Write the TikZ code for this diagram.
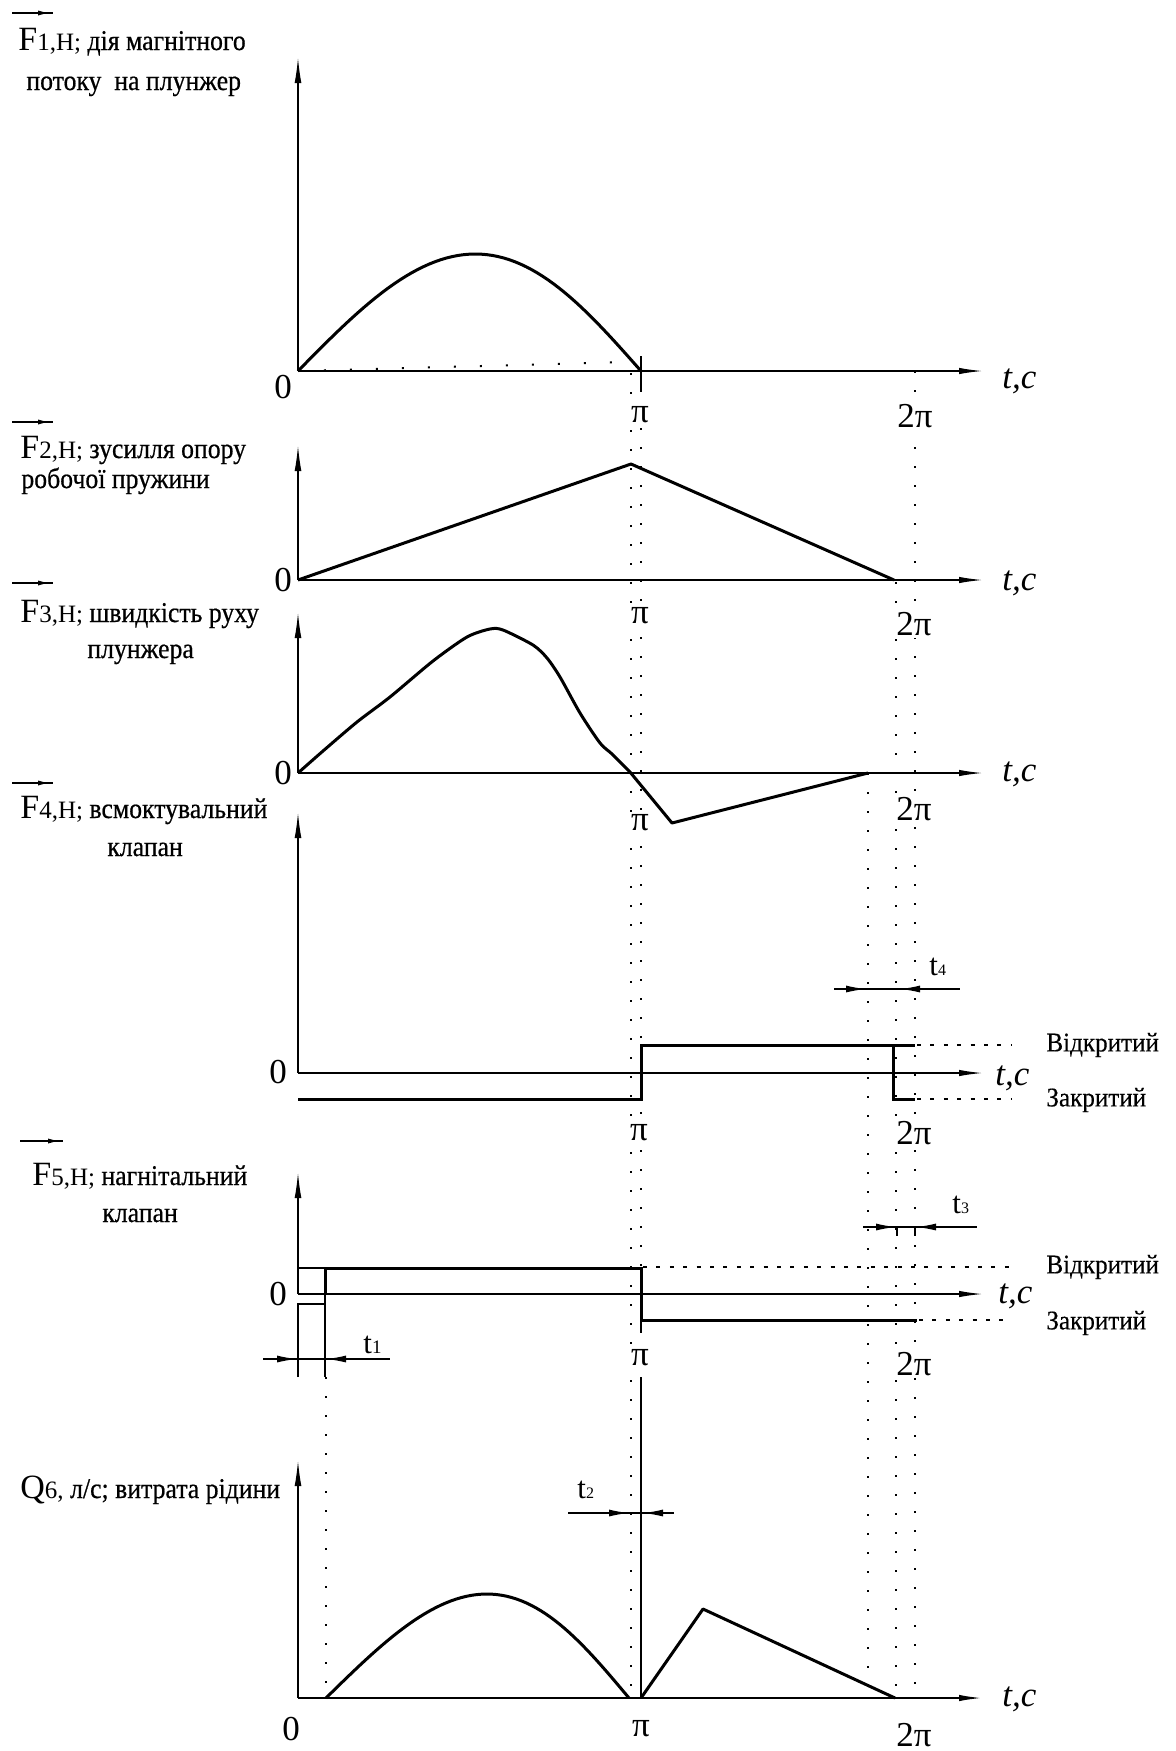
\documentclass[tikz,border=0pt]{standalone}
\usepackage{fontspec}
\setmainfont{Liberation Serif}
\newfontfamily\labf[FakeStretch=0.9,FakeBold=0.6]{Liberation Serif}
\newfontfamily\labg[FakeStretch=0.93,FakeBold=0.3]{Liberation Serif}
\usetikzlibrary{arrows.meta}
\newcommand{\bigF}[1]{{\fontsize{17}{17}\selectfont #1}}
\newcommand{\midF}[1]{{\fontsize{12.5}{12.5}\selectfont #1}}
\newcommand{\cyr}[1]{{\labf\fontsize{14.3}{14.3}\selectfont #1}}
\begin{document}
\begin{tikzpicture}[x=0.5pt,y=-0.5pt,
  axis/.style={line width=0.75pt,-{Latex[length=12pt,width=3.2pt]}},
  yaxis/.style={line width=0.75pt,-{Latex[length=13pt,width=3.4pt]}},
  curve/.style={line width=1.5pt,line join=round},
  stepl/.style={line width=1.5pt,line join=miter},
  thinl/.style={line width=0.7pt},
  dotv/.style={line width=1pt,dash pattern=on 1pt off 8.5pt},
  dotc/.style={line width=1pt,dash pattern=on 1pt off 12pt},
  dashh/.style={line width=0.7pt,dash pattern=on 2pt off 4.7pt},
  num/.style={font=\fontsize{17.5}{17.5}\selectfont,fill=white,inner sep=1pt},
  tc/.style={font=\fontsize{17.5}{17.5}\selectfont\itshape,anchor=base west,inner sep=0pt},
  lab/.style={anchor=base west,inner sep=0pt},
  state/.style={font=\labg\fontsize{13.5}{13.5}\selectfont,anchor=west,inner sep=0pt},
  dimtip/.style={line width=0.7pt,-{Latex[length=10pt,width=3.5pt]}},
  tlab/.style={anchor=base west,inner sep=0pt},
]
\useasboundingbox (0,0) rectangle (1175,1751);

% ---------- dotted guide lines ----------
\draw[dotv] (631,373) -- (631,1698);
\draw[dotv] (641,390) -- (641,1268);
\draw[dotv] (868,773) -- (868,1698);
\draw[dotv] (896,582) -- (896,1698);
\draw[dotv] (915,371) -- (915,1698);
\draw[dotv] (326,1377) -- (326,1698);

% ---------- vector arrows over F ----------
\foreach \yy/\xa/\xb in {13/12/53, 422/12/53, 583/12/53, 783/12/53, 1141/20/63}{
  \draw[line width=0.6pt] (\xa,\yy) -- (\xb,\yy);
  \fill (\xb-15,\yy-2.5) -- (\xb-6,\yy) -- (\xb-15,\yy+2.5) -- cycle;
}

% ---------- labels ----------
\node[lab] (l1) at (18,50) {\bigF{F}\midF{1,Н;}\cyr{ дія магнітного}};
\node[lab] (l1b) at (26,90) {\cyr{потоку\ \ на плунжер}};
\node[lab] (l2) at (20,458) {\bigF{F}\midF{2,Н;}\cyr{ зусилля опору}};
\node[lab] (l2b) at (21,488) {\cyr{робочої пружини}};
\node[lab] (l3) at (20,622) {\bigF{F}\midF{3,Н;}\cyr{ швидкість руху}};
\node[lab] (l3b) at (87,658) {\cyr{плунжера}};
\node[lab] (l4) at (20,818) {\bigF{F}\midF{4,Н;}\cyr{ всмоктувальний}};
\node[lab] (l4b) at (107,856) {\cyr{клапан}};
\node[lab] (l5) at (32,1185) {\bigF{F}\midF{5,Н;}\cyr{ нагнітальний}};
\node[lab] (l5b) at (102,1222) {\cyr{клапан}};
\node[lab] (l6) at (20,1498) {\bigF{Q}\midF{6,}\cyr{ л/с; витрата рідини}};

% ---------- chart 1 ----------
\draw[yaxis] (298,371) -- (298,57);
\draw[axis] (298,371) -- (983,371);
\draw[dotc] (298,371) -- (628,362);
\draw[thinl] (641,356) -- (641,390);
\draw[curve] plot[domain=0:1,samples=61] ({298+343*(\x+0.017*sin(180*\x))},{371-117*sin(180*\x)});
\node[num] (z1) at (283,387) {0};
\node[num] (p1) at (640,415) {π};
\node[num] (q1) at (915,416) {2π};
\node[tc] (t1) at (1002,388) {t,с};

% ---------- chart 2 ----------
\draw[yaxis] (298,580) -- (298,445);
\draw[axis] (298,580) -- (983,580);
\draw[curve] (298,580) -- (631,464) -- (894,580);
\node[num] (z2) at (283,580) {0};
\node[num] (p2) at (640,616) {π};
\node[num] (q2) at (914,624) {2π};
\node[tc] (t2) at (1002,590) {t,с};

% ---------- chart 3 ----------
\draw[yaxis] (298,773) -- (298,612);
\draw[axis] (298,773) -- (983,773);
\draw[curve] plot[smooth,tension=0.45] coordinates {(298,773) (323,751) (357,722) (390,697) (433,661) (467,637) (490,629) (503,630) (533,645) (547,658) (560,677) (580,713) (600,743) (612,754) (630,772)} -- (672,823) -- (868,773);
\node[num] (z3) at (283,773) {0};
\node[num] (p3) at (640,823) {π};
\node[num] (q3) at (914,809) {2π};
\node[tc] (t3) at (1002,781) {t,с};

% ---------- chart 4 ----------
\draw[yaxis] (298,1073) -- (298,812);
\draw[axis] (298,1073) -- (983,1073);
\draw[stepl] (298,1099) -- (641,1099) -- (641,1045) -- (915,1045);
\draw[stepl] (893,1045) -- (893,1099) -- (915,1099);
\draw[dashh] (917,1045) -- (1012,1045);
\draw[dashh] (917,1099) -- (1012,1099);
\draw[thinl] (834,989) -- (960,989);
\draw[dimtip] (840,989) -- (866,989);
\draw[dimtip] (924,989) -- (900,989);
\node[tlab] (d4) at (929,975) {\fontsize{15.5}{15.5}\selectfont t\fontsize{8}{8}\selectfont 4};
\node[num] (z4) at (278,1072) {0};
\node[num] (p4) at (639,1133) {π};
\node[num] (q4) at (914,1133) {2π};
\node[tc] (t4) at (995,1085) {t,с};
\node[state] (o4) at (1046,1045) {Відкритий};
\node[state] (c4) at (1046,1100) {Закритий};

% ---------- chart 5 ----------
\draw[yaxis] (298,1294) -- (298,1172);
\draw[axis] (298,1294) -- (983,1294);
\draw[thinl] (298,1268) -- (325,1268);
\draw[stepl] (325,1294) -- (325,1268) -- (641,1268) -- (641,1320) -- (917,1320);
\draw[thinl] (325,1294) -- (325,1377);
\draw[thinl] (298,1377) -- (298,1304) -- (325,1304);
\draw[thinl] (641,1320) -- (641,1333);
\draw[dashh] (643,1267) -- (1012,1267);
\draw[dashh] (919,1320) -- (1012,1320);
\draw[thinl] (263,1359) -- (390,1359);
\draw[dimtip] (272,1359) -- (297,1359);
\draw[dimtip] (352,1359) -- (326,1359);
\node[tlab] (d1) at (363,1353) {\fontsize{15.5}{15.5}\selectfont t\fontsize{9.5}{9.5}\selectfont 1};
\draw[thinl] (863,1227) -- (977,1227);
\draw[dimtip] (870,1227) -- (896,1227);
\draw[dimtip] (944,1227) -- (916,1227);
\draw[thinl] (897,1227) -- (897,1236);
\draw[thinl] (915,1227) -- (915,1236);
\node[tlab] (d3) at (952,1213) {\fontsize{15.5}{15.5}\selectfont t\fontsize{8}{8}\selectfont 3};
\node[num] (z5) at (278,1294) {0};
\node[num] (p5) at (640,1358) {π};
\node[num] (q5) at (914,1364) {2π};
\node[tc] (t5) at (998,1303) {t,с};
\node[state] (o5) at (1046,1267) {Відкритий};
\node[state] (c5) at (1046,1323) {Закритий};

% ---------- chart 6 ----------
\draw[thinl] (641,1377) -- (641,1698);
\draw[yaxis] (298,1698) -- (298,1460);
\draw[axis,line width=1pt] (298,1698) -- (983,1698);
\draw[curve] plot[domain=0:1,samples=61] ({326+303*(\x+0.031*sin(180*\x))},{1698-104*sin(180*\x)});
\draw[curve] (641,1698) -- (703,1609) -- (895,1698);
\draw[thinl] (568,1513) -- (674,1513);
\draw[dimtip] (603,1513) -- (629,1513);
\draw[dimtip] (667,1513) -- (643,1513);
\node[tlab] (d2) at (577,1498) {\fontsize{15.5}{15.5}\selectfont t\fontsize{8}{8}\selectfont 2};
\node[num] (z6) at (291,1729) {0};
\node[num] (p6) at (641,1729) {π};
\node[num] (q6) at (914,1735) {2π};
\node[tc] (t6) at (1002,1706) {t,с};
\end{tikzpicture}
\end{document}
